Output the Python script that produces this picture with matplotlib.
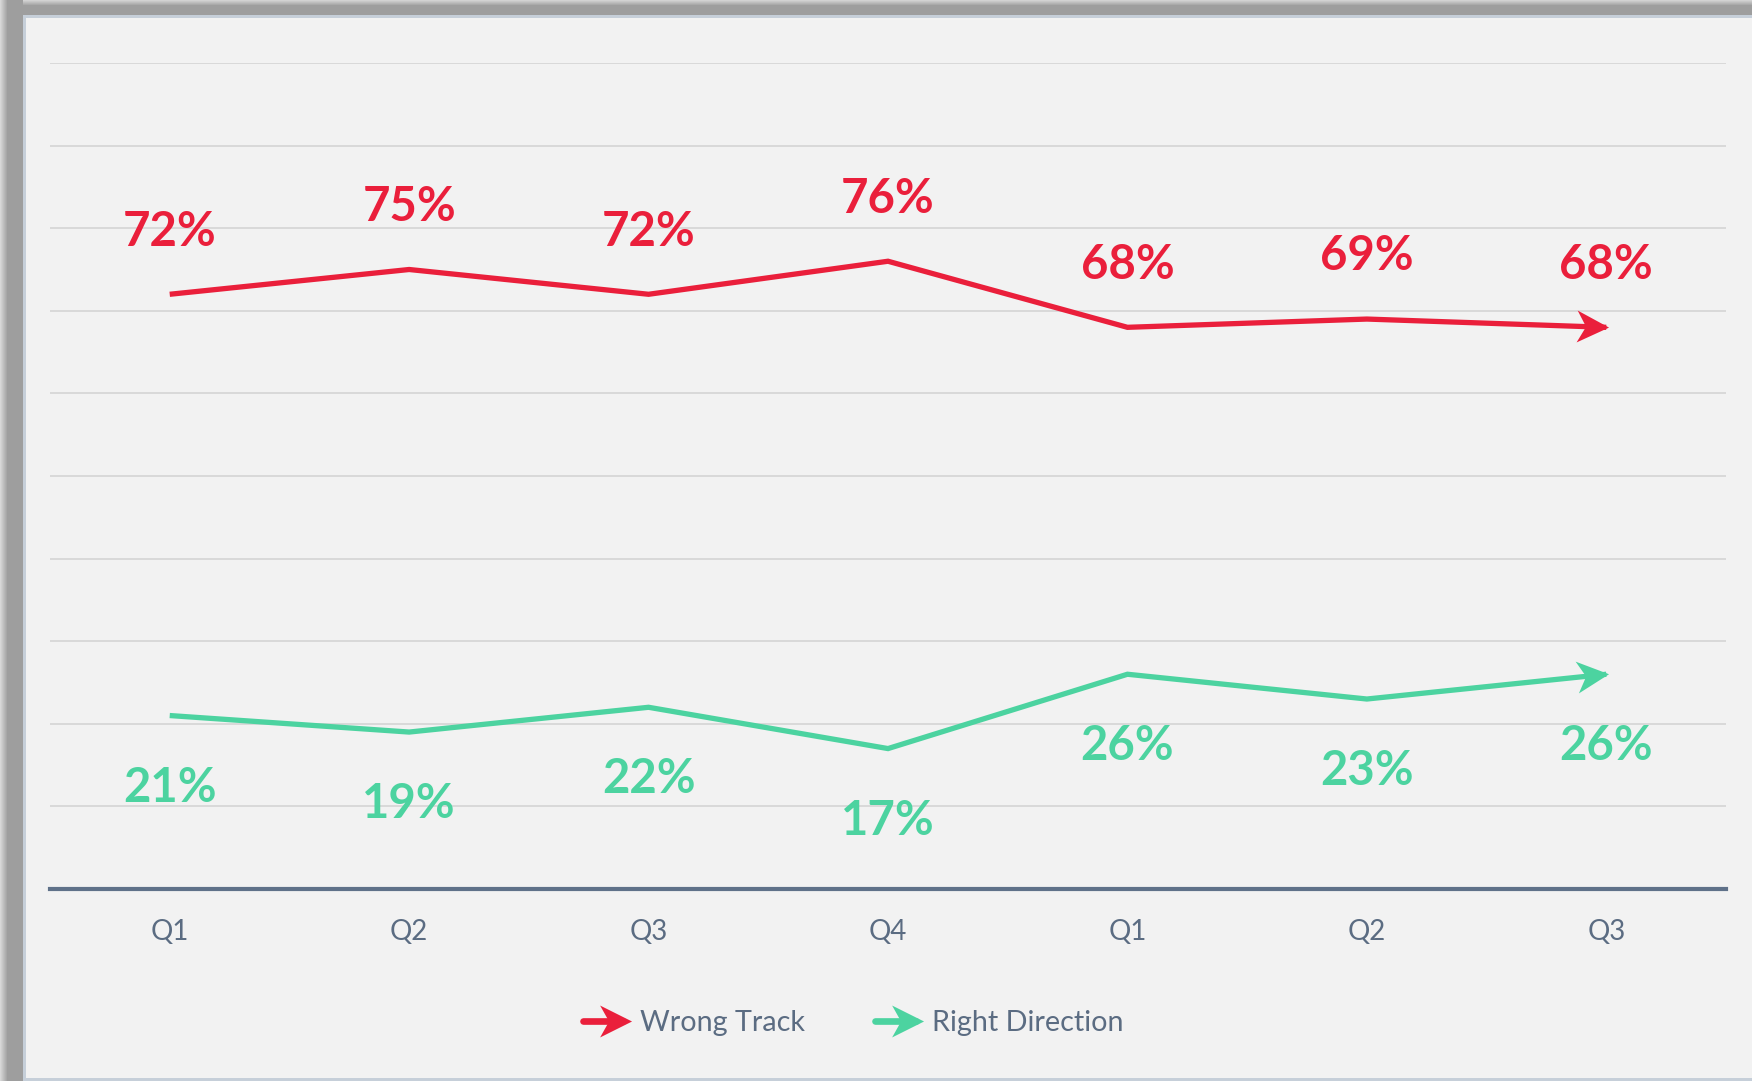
import numpy as np
import matplotlib
matplotlib.use("Agg")
import matplotlib.pyplot as plt
from matplotlib.path import Path
from matplotlib.markers import MarkerStyle
from matplotlib.transforms import Affine2D
from matplotlib.lines import Line2D
from matplotlib.legend_handler import HandlerBase

# ---- data ----
categories = ["Q1", "Q2", "Q3", "Q4", "Q1", "Q2", "Q3"]
wrong_track = [72, 75, 72, 76, 68, 69, 68]
right_direction = [21, 19, 22, 17, 26, 23, 26]
series_names = ["Wrong Track", "Right Direction"]

RED = "#EA1F3B"
GREEN = "#4CD3A0"
TEXT = "#5B6C82"
GRID = "#D9D9D9"
BASE = "#5F7189"

plt.rcParams['font.family'] = ['Lato', 'DejaVu Sans']

W, H = 1752, 1081
fig = plt.figure(figsize=(W / 100, H / 100), dpi=100)
fig.patch.set_facecolor("#F2F2F2")

# background frame with shadow
bg = np.full((H, W, 3), 242, dtype=float)
for xx in range(23):
    v = 158 if xx >= 7 else 215 - xx * 8
    bg[:, xx, :] = v
for yy in range(15):
    v = 158 if yy >= 5 else 210 - yy * 10
    bg[yy, 23:, :] = np.minimum(bg[yy, 23:, :], v)
border = np.array([198, 207, 217])
bg[15:, 23:26, :] = border
bg[15:18, 23:, :] = border
bg[H - 3:, 23:, :] = border
fig.figimage(bg.astype(np.uint8)[::-1], xo=0, yo=0, origin='lower', zorder=-10)

ax = fig.add_axes([50 / W, 1 - 889 / H, (1726 - 50) / W, (889 - 63) / H])
ax.set_zorder(1)
ax.set_facecolor("none")
x = np.arange(len(categories))
ax.set_xlim(-0.5, len(categories) - 0.5)
ax.set_ylim(0, 100)
ax.set_yticks(np.arange(10, 101, 10))
ax.yaxis.grid(True, color=GRID, linewidth=1.4)
ax.set_axisbelow(True)
ax.tick_params(axis='y', left=False, labelleft=False)
ax.tick_params(axis='x', bottom=False, pad=18, labelsize=20, labelcolor=TEXT)
ax.set_xticks(x)
ax.set_xticklabels(categories)
for s in ["top", "right", "left"]:
    ax.spines[s].set_visible(False)
ax.spines["bottom"].set_color(BASE)
ax.spines["bottom"].set_linewidth(3)

# arrow head marker (origin just behind the tip)
verts = [(0.08, 0), (-0.92, 0.5), (-0.64, 0), (-0.92, -0.5), (0.08, 0)]
codes = [Path.MOVETO, Path.LINETO, Path.LINETO, Path.LINETO, Path.CLOSEPOLY]
arrow_path = Path(verts, codes)
head_len_pt = 23
ms = head_len_pt / (0.5 / 0.92)


def arrow_marker(angle):
    return MarkerStyle(arrow_path, transform=Affine2D().rotate_deg(angle))


for vals, color, name, off in [(wrong_track, RED, series_names[0], 35),
                               (right_direction, GREEN, series_names[1], -62)]:
    ax.plot(x, vals, color=color, lw=3.8, solid_capstyle='butt',
            solid_joinstyle='miter', zorder=3)
    p = ax.transData.transform([(x[-2], vals[-2]), (x[-1], vals[-1])])
    ang = np.degrees(np.arctan2(p[1][1] - p[0][1], p[1][0] - p[0][0]))
    ax.plot([x[-1]], [vals[-1]], linestyle='none', marker=arrow_marker(ang),
            markersize=ms, color=color, markeredgewidth=0, zorder=4)
    for xi, v in zip(x, vals):
        ax.annotate(f"{v}%", (xi, v), xytext=(0, off), textcoords='offset points',
                    ha='center', va='baseline', fontsize=34, fontweight='bold',
                    color=color, zorder=5)


class ArrowHandler(HandlerBase):
    def __init__(self, color):
        super().__init__()
        self.color = color

    def create_artists(self, legend, orig_handle, xdescent, ydescent,
                       width, height, fontsize, trans):
        y = height / 2 - ydescent
        x0, x1 = -xdescent, width - xdescent
        line = Line2D([x0, x1 - 6], [y, y], color=self.color, lw=4.8,
                      solid_capstyle='round', transform=trans)
        tip = Line2D([x1 - 2], [y], linestyle='none', marker=arrow_marker(0),
                     markersize=ms, color=self.color, markeredgewidth=0,
                     transform=trans)
        return [line, tip]


h1 = Line2D([], [], color=RED)
h2 = Line2D([], [], color=GREEN)
leg = fig.legend([h1, h2], series_names, loc='center',
                 bbox_to_anchor=(853 / W, 1 - 1023 / H), ncol=2, frameon=False,
                 fontsize=20.7, labelcolor=TEXT, handlelength=1.7,
                 handletextpad=0.27, columnspacing=2.45,
                 handler_map={h1: ArrowHandler(RED), h2: ArrowHandler(GREEN)})

fig.savefig("out.png", dpi=100, facecolor=fig.get_facecolor())
